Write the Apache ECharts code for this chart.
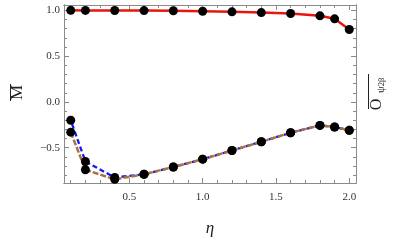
<!DOCTYPE html>
<html><head><meta charset="utf-8">
<script src="https://cdn.jsdelivr.net/npm/echarts@6/dist/echarts.min.js"></script>
<style>html,body{margin:0;padding:0;background:#fff}#c{width:395px;height:241px}</style>
</head><body><div id="c"></div>
<script>
const eta = [0.1, 0.2, 0.4, 0.6, 0.8, 1.0, 1.2, 1.4, 1.6, 1.8, 1.9, 2.0];
const mBar = [1.0, 0.999, 0.998, 0.997, 0.995, 0.99, 0.983, 0.975, 0.965, 0.94, 0.907, 0.79];
const oBlue = [-0.2, -0.65, -0.825, -0.79, -0.71, -0.625, -0.53, -0.435, -0.336, -0.256, -0.274, -0.31];
const oBrown = [-0.33, -0.74, -0.845, -0.79, -0.71, -0.625, -0.53, -0.435, -0.336, -0.256, -0.274, -0.31];
const xMajor = [0.5, 1.0, 1.5, 2.0];
const xMinor = [0.1, 0.2, 0.3, 0.4, 0.6, 0.7, 0.8, 0.9, 1.1, 1.2, 1.3, 1.4, 1.6, 1.7, 1.8, 1.9];
const yMajor = [-0.5, 0.0, 0.5, 1.0];
const yMinor = [-0.8, -0.7, -0.6, -0.4, -0.3, -0.2, -0.1, 0.1, 0.2, 0.3, 0.4, 0.6, 0.7, 0.8, 0.9];

const X_MIN = 0.054, X_MAX = 2.046, Y_MIN = -0.885, Y_MAX = 1.058;
const serif = '"Liberation Serif", "DejaVu Serif", serif';
const frame = '#8a8a8a';

function fmt(v){ return v < 0 ? '\u2212' + Math.abs(v).toFixed(1) : v.toFixed(1); }
function pair(xs, ys){ return xs.map((x, i) => [x, ys[i]]); }

function xAx(pos, ticks, len, labels){
  return {
    type: 'value', position: pos, min: X_MIN, max: X_MAX,
    axisLine: {show: true, onZero: false, lineStyle: {color: frame, width: 1}},
    axisTick: {show: true, inside: true, length: len, customValues: ticks, lineStyle: {color: frame}},
    axisLabel: labels ? {show: true, customValues: xMajor, formatter: fmt, color: '#333',
      fontFamily: serif, fontSize: 11, margin: 9} : {show: false},
    splitLine: {show: false}
  };
}
function yAx(pos, ticks, len, labels){
  return {
    type: 'value', position: pos, min: Y_MIN, max: Y_MAX,
    axisLine: {show: true, onZero: false, lineStyle: {color: frame, width: 1}},
    axisTick: {show: true, inside: true, length: len, customValues: ticks, lineStyle: {color: frame}},
    axisLabel: labels ? {show: true, customValues: yMajor, formatter: fmt, color: '#333',
      fontFamily: serif, fontSize: 11, margin: 4} : {show: false},
    splitLine: {show: false}
  };
}
function rtext(txt, x, y, size){
  return {type: 'text', x: x, y: y, rotation: Math.PI / 2,
    style: {text: txt, font: size + 'px ' + serif, fill: '#222', textAlign: 'center', textVerticalAlign: 'middle'}};
}

const chart = echarts.init(document.getElementById('c'), null, {renderer: 'canvas'});
chart.setOption({
  animation: false,
  backgroundColor: '#fff',
  grid: {left: 64, right: 39, top: 5, bottom: 58},
  xAxis: [
    xAx('bottom', xMajor, 5, true),
    xAx('bottom', xMinor, 3, false),
    xAx('top', xMajor, 5, false),
    xAx('top', xMinor, 3, false)
  ],
  yAxis: [
    yAx('left', yMajor, 5, true),
    yAx('left', yMinor, 3, false),
    yAx('right', yMajor, 5, false),
    yAx('right', yMinor, 3, false)
  ],
  series: [
    {type: 'line', data: pair(eta, mBar), showSymbol: false, symbol: 'none',
      lineStyle: {color: '#e8160c', width: 2.5}, z: 2},
    {type: 'line', data: pair(eta, oBlue), showSymbol: false, symbol: 'none',
      lineStyle: {color: '#1717f0', width: 2.3, type: [5, 3], dashOffset: 4}, z: 2},
    {type: 'line', data: pair(eta, oBrown), showSymbol: false, symbol: 'none',
      lineStyle: {color: '#a8743e', width: 2.5, type: [6, 2]}, z: 3},
    {type: 'scatter', data: pair(eta, mBar), symbol: 'circle', symbolSize: 9,
      itemStyle: {color: '#000', opacity: 1}, z: 5},
    {type: 'scatter', data: pair(eta, oBrown), symbol: 'circle', symbolSize: 9,
      itemStyle: {color: '#000', opacity: 1}, z: 5},
    {type: 'scatter', data: pair(eta, oBlue), symbol: 'circle', symbolSize: 9,
      itemStyle: {color: '#000', opacity: 1}, z: 5}
  ],
  graphic: [
    rtext('M', 18, 92.5, 17),
    {type: 'line', shape: {x1: 10.5, y1: 84, x2: 10.5, y2: 101}, style: {stroke: '#222', lineWidth: 1}},
    {type: 'text', x: 210, y: 229,
      style: {text: '\u03b7', font: 'italic 17px ' + serif, fill: '#222', textAlign: 'center', textVerticalAlign: 'middle'}},
    rtext('O', 376.5, 104.5, 16),
    rtext('\u03c8', 381, 89.5, 11),
    rtext('2\u03b2', 382, 82, 8.5),
    {type: 'line', shape: {x1: 368.5, y1: 74, x2: 368.5, y2: 109}, style: {stroke: '#222', lineWidth: 1}}
  ]
});
</script>
</body></html>
